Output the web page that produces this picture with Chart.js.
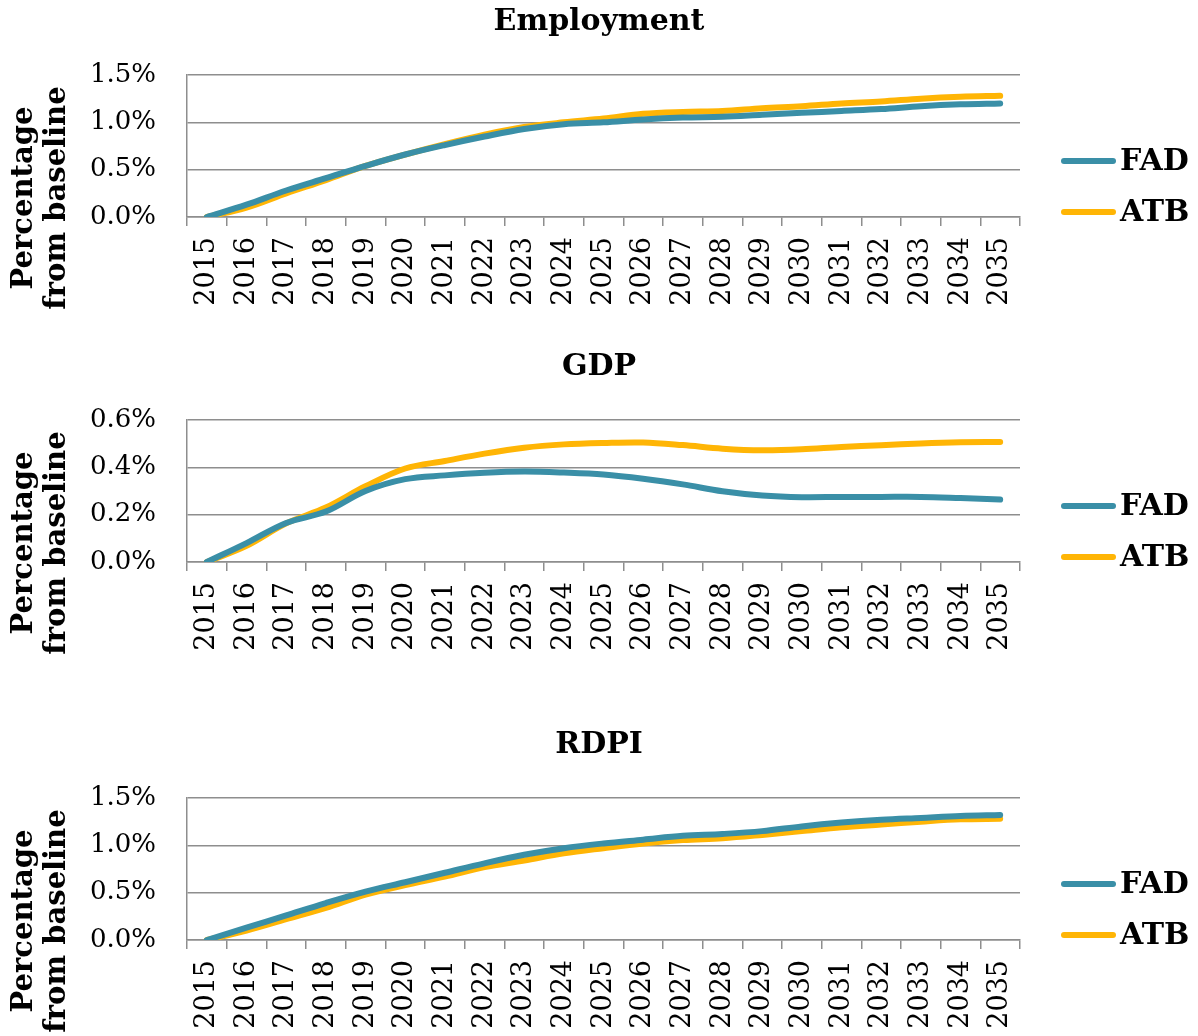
<!DOCTYPE html>
<html>
<head>
<meta charset="utf-8">
<script src="https://cdn.jsdelivr.net/npm/chart.js@4.4.1/dist/chart.umd.min.js"></script>
<style>
  body { margin: 0; background: #fff; overflow: hidden; }
  .panel { position: absolute; left: 0; width: 1198px; height: 372px; }
</style>
</head>
<body>
<div class="panel" style="top:0px"><canvas id="employmentChart" width="1198" height="372"></canvas></div>
<div class="panel" style="top:345px"><canvas id="gdpChart" width="1198" height="372"></canvas></div>
<div class="panel" style="top:723px"><canvas id="rdpiChart" width="1198" height="372"></canvas></div>

<script>
//Data (percent from baseline)
const years = ["2015", "2016", "2017", "2018", "2019", "2020", "2021", "2022", "2023", "2024",
  "2025", "2026", "2027", "2028", "2029", "2030", "2031", "2032", "2033", "2034", "2035"];

const employmentFAD = [0.00, 0.13, 0.28, 0.41, 0.54, 0.66, 0.76, 0.85, 0.93, 0.98, 1.00,
  1.03, 1.05, 1.06, 1.08, 1.10, 1.12, 1.14, 1.17, 1.19, 1.20];
const employmentATB = [0.00, 0.10, 0.25, 0.39, 0.54, 0.66, 0.77, 0.87, 0.95, 1.00, 1.04,
  1.09, 1.11, 1.12, 1.15, 1.17, 1.20, 1.22, 1.25, 1.27, 1.28];

const gdpFAD = [0.00, 0.08, 0.165, 0.213, 0.30, 0.35, 0.366, 0.377, 0.382, 0.378, 0.37,
  0.352, 0.328, 0.299, 0.281, 0.274, 0.275, 0.275, 0.275, 0.27, 0.264];
const gdpATB = [0.00, 0.068, 0.163, 0.23, 0.32, 0.395, 0.427, 0.458, 0.483, 0.497, 0.503,
  0.505, 0.494, 0.479, 0.472, 0.476, 0.486, 0.493, 0.501, 0.506, 0.507];

const rdpiFAD = [0.00, 0.13, 0.26, 0.39, 0.51, 0.61, 0.71, 0.81, 0.90, 0.97, 1.02,
  1.06, 1.10, 1.12, 1.15, 1.20, 1.24, 1.27, 1.29, 1.31, 1.32];
const rdpiATB = [0.00, 0.10, 0.22, 0.34, 0.48, 0.58, 0.67, 0.77, 0.84, 0.915, 0.97,
  1.02, 1.055, 1.075, 1.11, 1.15, 1.19, 1.22, 1.25, 1.275, 1.28];

const seriesNames = ["FAD", "ATB"];
const seriesColors = ["#3A8FA7", "#FFB505"];
const yAxisTitle = ["Percentage", "from baseline"];

//Styling
const gridGray = "#8E8E8E";
const serif = "'DejaVu Serif', Georgia, serif";
Chart.defaults.font.family = serif;
Chart.defaults.color = "#000";

//Draws the rotated y title and the legend on the left / right margins
const sideTextPlugin = {
  id: "sideText",
  afterDraw(chart) {
    const ctx = chart.ctx;
    ctx.save();

    // y axis title, two lines rotated
    ctx.font = "bold 29px " + serif;
    ctx.fillStyle = "#000";
    ctx.textAlign = "center";
    ctx.textBaseline = "middle";
    ctx.translate(0, 198);
    ctx.rotate(-Math.PI / 2);
    ctx.fillText(yAxisTitle[0], 0, 24);
    ctx.fillText(yAxisTitle[1], 0, 57);
    ctx.restore();

    // legend
    ctx.save();
    ctx.font = "bold 30px " + serif;
    ctx.textAlign = "left";
    ctx.textBaseline = "middle";
    chart.data.datasets.forEach((ds, i) => {
      const y = 161 + i * 51;
      ctx.strokeStyle = ds.borderColor;
      ctx.lineWidth = 6;
      ctx.lineCap = "round";
      ctx.beginPath();
      ctx.moveTo(1064, y);
      ctx.lineTo(1113, y);
      ctx.stroke();
      ctx.fillStyle = "#000";
      ctx.fillText(ds.label, 1120, y + 1);
    });
    ctx.restore();
  },
};

function makeDataset(label, data, color) {
  return {
    label: label,
    data: data,
    borderColor: color,
    backgroundColor: color,
    borderWidth: 6,
    borderCapStyle: "round",
    borderJoinStyle: "round",
    pointRadius: 0,
    tension: 0.35,
    fill: false,
  };
}

function createPanel(canvasId, title, fadData, atbData, yMax, yStep) {
  const ctx = document.getElementById(canvasId).getContext("2d");
  return new Chart(ctx, {
    type: "line",
    data: {
      labels: years,
      datasets: [
        makeDataset(seriesNames[0], fadData, seriesColors[0]),
        makeDataset(seriesNames[1], atbData, seriesColors[1]),
      ],
    },
    options: {
      responsive: false,
      animation: false,
      devicePixelRatio: 1,
      layout: { padding: 0 },
      plugins: {
        legend: { display: false },
        tooltip: { enabled: false },
        title: {
          display: true,
          text: title,
          color: "#000",
          font: { size: 30, weight: "bold", family: serif },
          padding: { top: 4, bottom: 35 },
        },
      },
      scales: {
        x: {
          type: "category",
          offset: true,
          grid: {
            offset: true,
            drawOnChartArea: false,
            drawTicks: true,
            tickLength: 9,
            color: gridGray,
            lineWidth: 1.5,
          },
          border: { display: true, color: gridGray, width: 1.5 },
          ticks: {
            autoSkip: false,
            minRotation: 90,
            maxRotation: 90,
            padding: 11,
            color: "#000",
            font: { size: 27, family: serif },
          },
          afterFit(scale) {
            scale.height = 155;
          },
        },
        y: {
          min: 0,
          max: yMax,
          grid: { color: gridGray, lineWidth: 1.5, drawTicks: false },
          border: { display: true, color: gridGray, width: 1.5 },
          ticks: {
            stepSize: yStep,
            padding: 31,
            color: "#000",
            font: { size: 26, family: serif },
            callback: (v) => v.toFixed(1) + "%",
          },
          afterFit(scale) {
            scale.width = 187;
          },
        },
        // empty right-hand scale keeps room for the legend
        legendSpace: {
          position: "right",
          display: true,
          grid: { display: false },
          border: { display: false },
          ticks: { display: false },
          afterFit(scale) {
            scale.width = 178;
          },
        },
      },
    },
    plugins: [sideTextPlugin],
  });
}

//Chart 1
createPanel("employmentChart", "Employment", employmentFAD, employmentATB, 1.5, 0.5);
//Chart 2
createPanel("gdpChart", "GDP", gdpFAD, gdpATB, 0.6, 0.2);
//Chart 3
createPanel("rdpiChart", "RDPI", rdpiFAD, rdpiATB, 1.5, 0.5);
</script>
</body>
</html>
